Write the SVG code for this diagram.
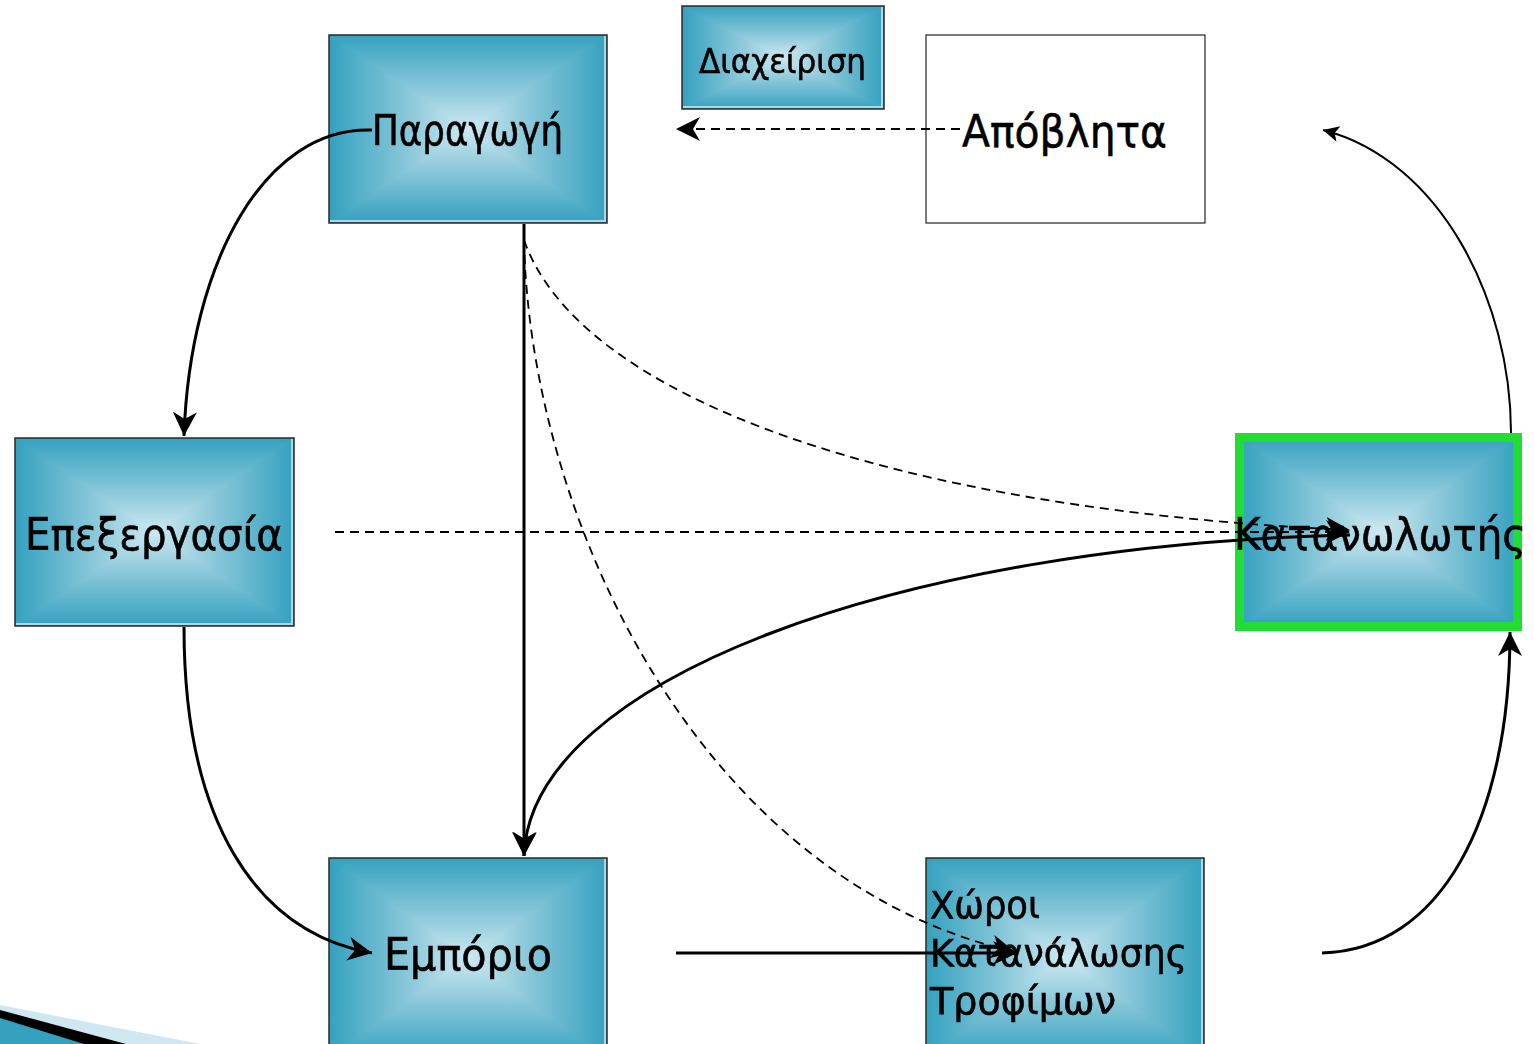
<svg xmlns="http://www.w3.org/2000/svg" width="1534" height="1044" viewBox="0 0 1534 1044">
<style>
  .lbl { font-family: "DejaVu Sans", "Noto Sans", sans-serif; fill: #000; stroke: #000; stroke-width: 0.6; }
  .edge { stroke: #2a2a2a; stroke-width: 1.5; fill: none; }
  .hi { stroke: #a9d9e6; stroke-width: 2; fill: none; }
  .gx { fill: url(#gh); }
  .gy { fill: url(#gv); mix-blend-mode: darken; }
  .node { isolation: isolate; }
  .solid { fill: none; stroke: #000; stroke-width: 3; }
  .thin { fill: none; stroke: #000; stroke-width: 2; }
  .dash { fill: none; stroke: #000; stroke-width: 1.8; stroke-dasharray: 9 6; }
</style>
<defs>
  <linearGradient id="gh" x1="0" y1="0" x2="1" y2="0">
    <stop offset="0" stop-color="#34a1bf"/>
    <stop offset="0.3" stop-color="#8fcadb"/>
    <stop offset="0.5" stop-color="#cde9f1"/>
    <stop offset="0.7" stop-color="#8fcadb"/>
    <stop offset="1" stop-color="#34a1bf"/>
  </linearGradient>
  <linearGradient id="gv" x1="0" y1="0" x2="0" y2="1">
    <stop offset="0" stop-color="#34a1bf"/>
    <stop offset="0.3" stop-color="#8fcadb"/>
    <stop offset="0.5" stop-color="#cde9f1"/>
    <stop offset="0.7" stop-color="#8fcadb"/>
    <stop offset="1" stop-color="#34a1bf"/>
  </linearGradient>
  <marker id="ah" markerUnits="userSpaceOnUse" markerWidth="26" markerHeight="26" refX="24" refY="12" orient="auto" viewBox="0 0 26 26">
    <path d="M0,0 L24,12 L0,24 L7,12 z" fill="#000"/>
  </marker>
  <marker id="ahs" markerUnits="userSpaceOnUse" markerWidth="18" markerHeight="18" refX="16" refY="8" orient="auto" viewBox="0 0 18 18">
    <path d="M0,0 L16,8 L0,16 L4,8 z" fill="#000"/>
  </marker>
</defs>
<rect width="1534" height="1044" fill="#fff"/>

<g id="corner-decoration">
  <polygon points="0,1005 200,1044 0,1044" fill="#cfe7f0"/>
  <polygon points="0,1010 126,1044 0,1044" fill="#000"/>
  <polygon points="0,1018 84,1044 0,1044" fill="#34a1bf"/>
</g>

<g id="node-paragogi" class="node">
  <rect class="gx" x="329" y="35" width="278" height="188"/>
  <rect class="gy" x="329" y="35" width="278" height="188"/>
  <path class="hi" d="M605,36 V221 H330"/>
  <rect class="edge" x="329" y="35" width="278" height="188"/>
  <text class="lbl" x="372" y="145" font-size="42" textLength="191" lengthAdjust="spacingAndGlyphs">Παραγωγή</text>
</g>

<g id="node-diacheirisi" class="node">
  <rect class="gx" x="682" y="6" width="202" height="103"/>
  <rect class="gy" x="682" y="6" width="202" height="103"/>
  <path class="hi" d="M882,7 V107 H683"/>
  <rect class="edge" x="682" y="6" width="202" height="103"/>
  <text class="lbl" x="699" y="73" font-size="33" textLength="167" lengthAdjust="spacingAndGlyphs">Διαχείριση</text>
</g>

<g id="node-apovlita">
  <rect x="926" y="35" width="279" height="188" fill="#fff" stroke="#222" stroke-width="1.2"/>
  <text class="lbl" x="962" y="147" font-size="44" textLength="205" lengthAdjust="spacingAndGlyphs">Απόβλητα</text>
</g>

<g id="node-epexergasia" class="node">
  <rect class="gx" x="15" y="438" width="279" height="188"/>
  <rect class="gy" x="15" y="438" width="279" height="188"/>
  <path class="hi" d="M292,439 V624 H16"/>
  <rect class="edge" x="15" y="438" width="279" height="188"/>
  <text class="lbl" x="25" y="550" font-size="45" textLength="258" lengthAdjust="spacingAndGlyphs">Επεξεργασία</text>
</g>

<g id="node-katanalotis" class="node">
  <rect class="gx" x="1240" y="437" width="278" height="189"/>
  <rect class="gy" x="1240" y="437" width="278" height="189"/>
  <rect x="1239.5" y="437.5" width="278" height="189" fill="none" stroke="#22dd33" stroke-width="9"/>
  <text class="lbl" x="1234" y="550" font-size="45" textLength="292" lengthAdjust="spacingAndGlyphs">Κατανωλωτής</text>
</g>

<g id="node-emporio" class="node">
  <rect class="gx" x="329" y="858" width="278" height="200"/>
  <rect class="gy" x="329" y="858" width="278" height="200"/>
  <path class="hi" d="M605,859 V1044"/>
  <rect class="edge" x="329" y="858" width="278" height="200"/>
  <text class="lbl" x="384" y="970" font-size="45" textLength="168" lengthAdjust="spacingAndGlyphs">Εμπόριο</text>
</g>

<g id="node-choroi" class="node">
  <rect class="gx" x="926" y="858" width="278" height="200"/>
  <rect class="gy" x="926" y="858" width="278" height="200"/>
  <path class="hi" d="M1202,859 V1044"/>
  <rect class="edge" x="926" y="858" width="278" height="200"/>
  <text class="lbl" font-size="38">
    <tspan x="930" y="918" textLength="110" lengthAdjust="spacingAndGlyphs">Χώροι</tspan>
    <tspan x="930" y="966" textLength="257" lengthAdjust="spacingAndGlyphs">Κατανάλωσης</tspan>
    <tspan x="930" y="1014" textLength="186" lengthAdjust="spacingAndGlyphs">Τροφίμων</tspan>
  </text>
</g>

<g id="connectors">
  <path class="solid" d="M372,130 C 265,126 190,262 184,436" marker-end="url(#ah)"/>
  <path class="solid" d="M184,627 C 184,820 255,932 372,953" marker-end="url(#ah)"/>
  <path class="solid" d="M524,224 V856" marker-end="url(#ah)"/>
  <path class="dash" d="M524,240 C 580,400 900,510 1350,530" marker-end="url(#ah)"/>
  <path class="dash" d="M524,240 C 530,520 700,880 1015,952" marker-end="url(#ah)"/>
  <path class="dash" d="M335,532 H1350" marker-end="url(#ah)"/>
  <path class="solid" d="M1350,535 C 900,545 530,680 524,856" marker-end="url(#ah)"/>
  <path class="solid" d="M676,953 H1017" marker-end="url(#ah)"/>
  <path class="solid" d="M1322,953 C 1440,950 1510,820 1510,632" marker-end="url(#ah)"/>
  <path class="thin" d="M1511,433 C 1511,300 1440,160 1323,130" marker-end="url(#ahs)"/>
  <path class="dash" d="M960,129 H676" marker-end="url(#ah)"/>
</g>
</svg>
